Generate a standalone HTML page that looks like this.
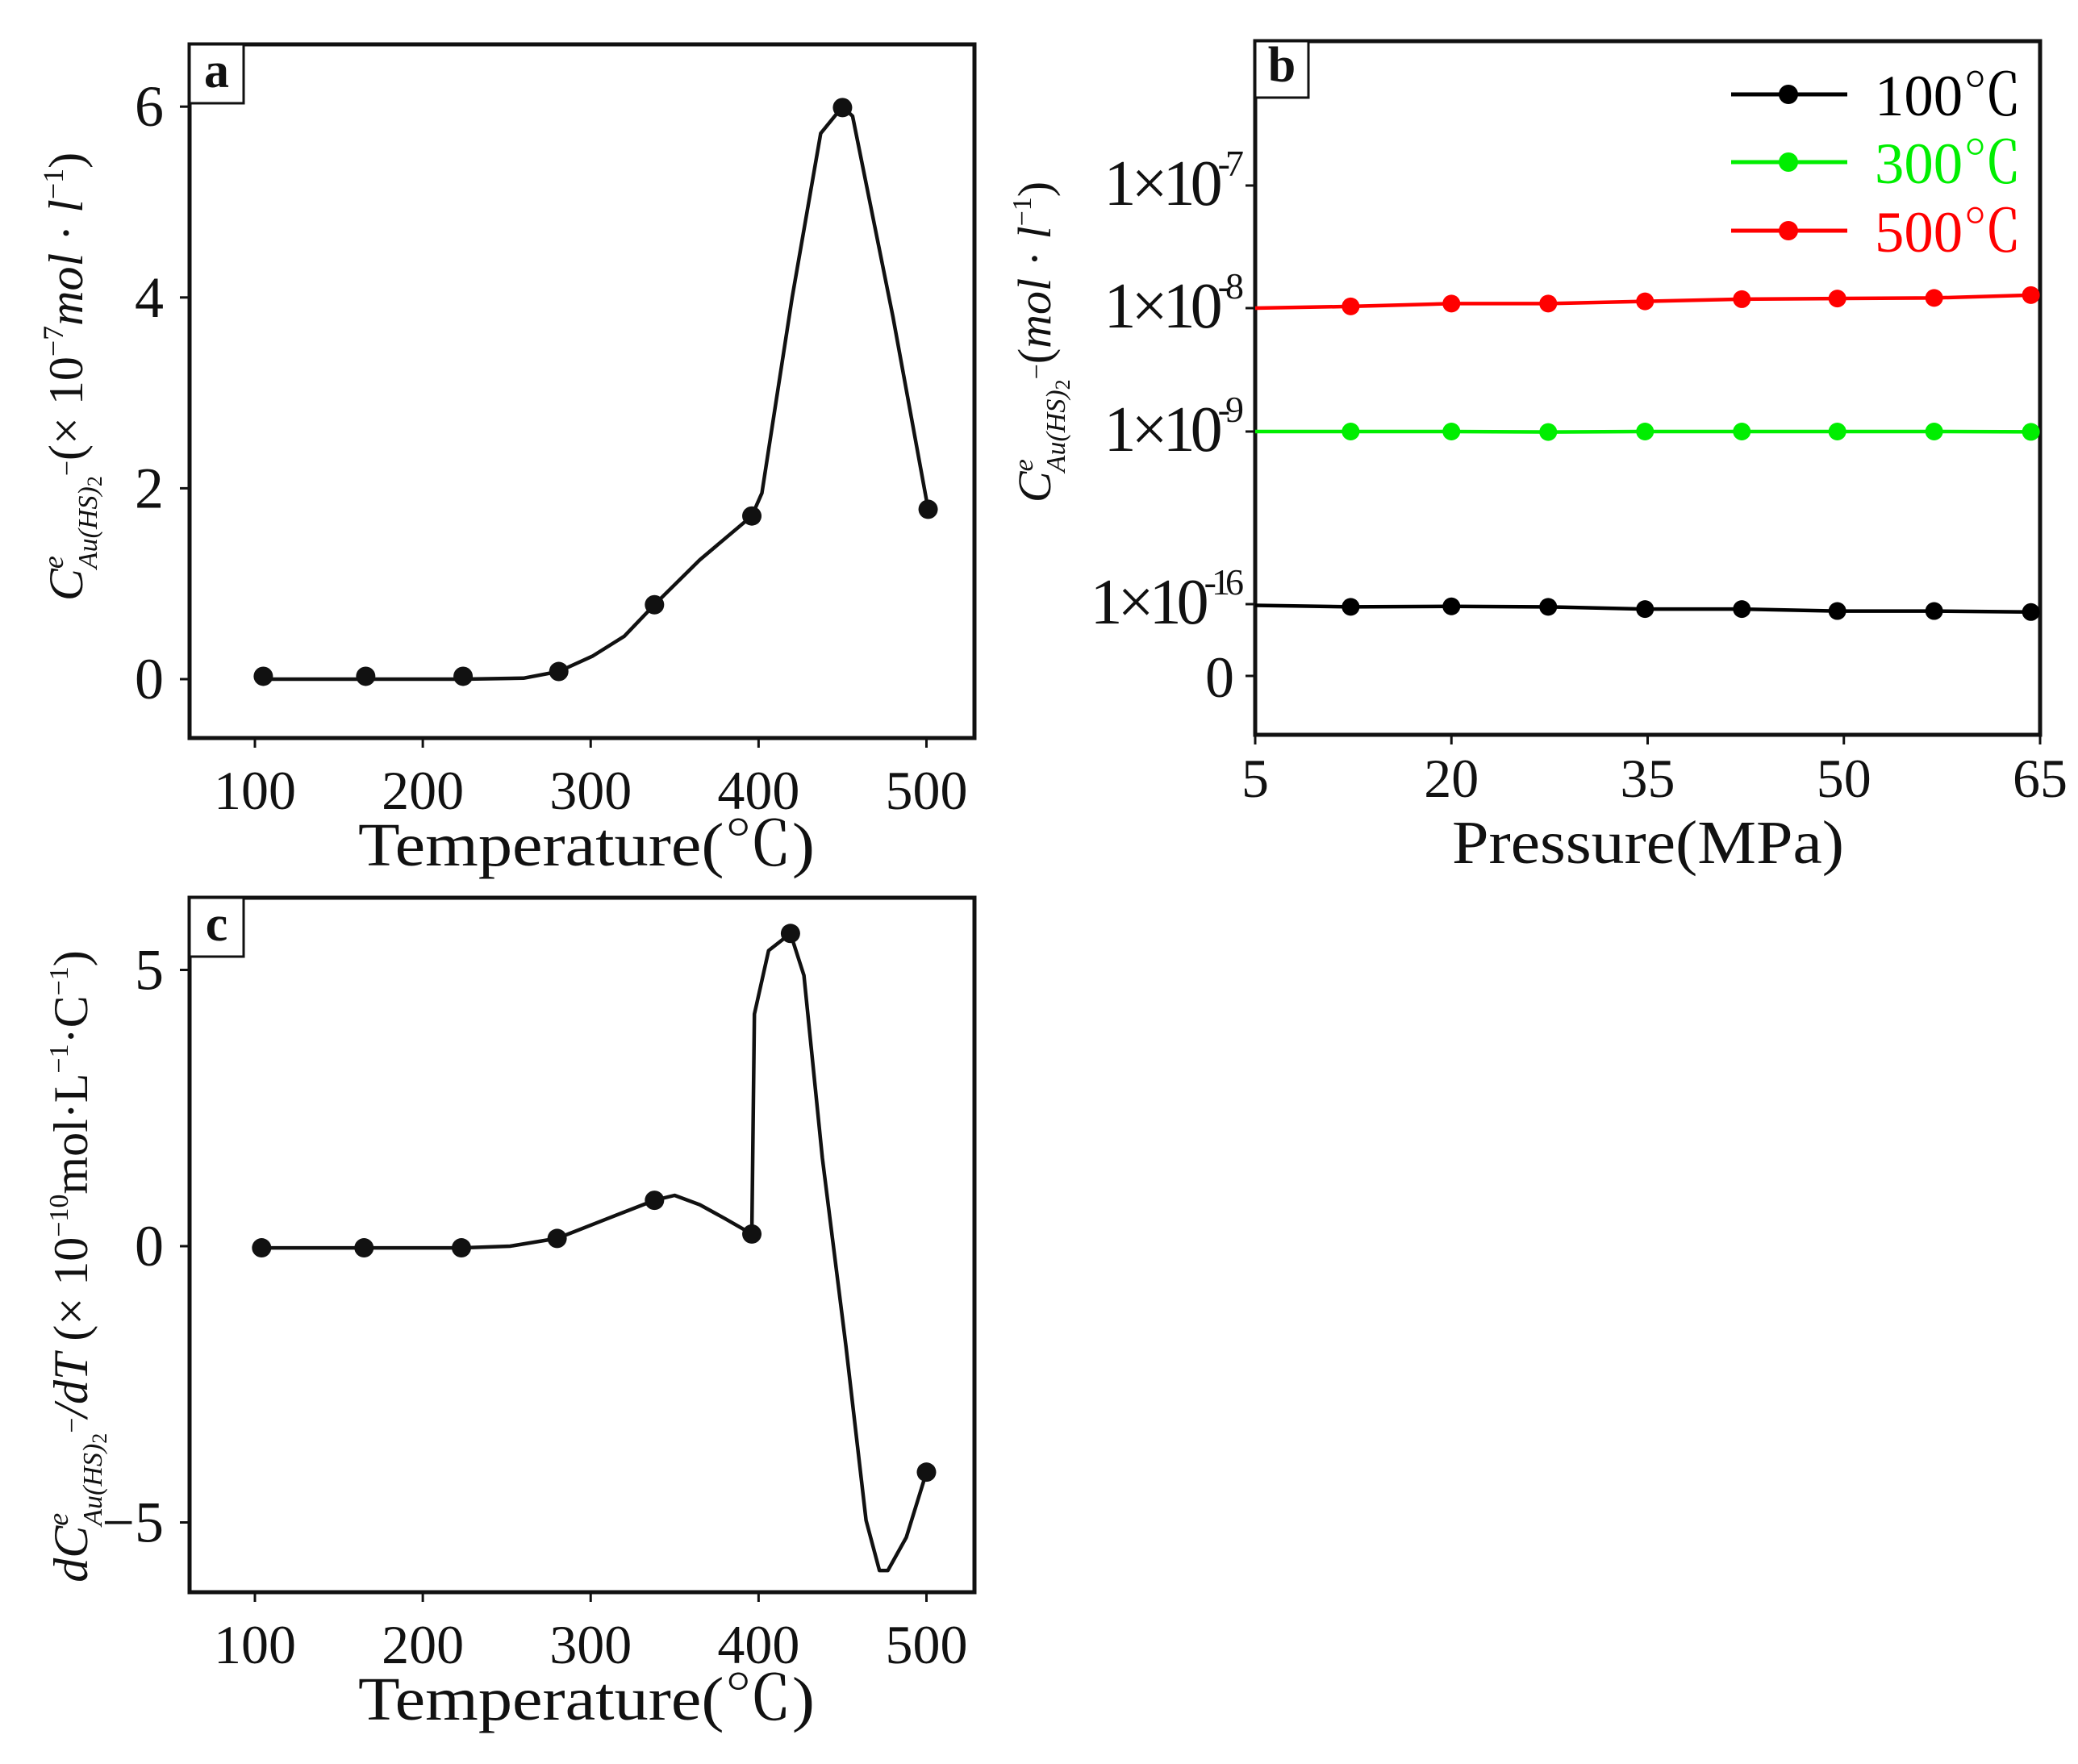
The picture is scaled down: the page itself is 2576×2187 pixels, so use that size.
<!DOCTYPE html>
<html><head><meta charset="utf-8"><style>
html,body{margin:0;padding:0;background:#fff;}
svg{display:block;}
text{font-family:"Liberation Serif","Noto Serif CJK SC",serif;fill:#111;}
</style></head><body>
<svg id="chart" width="2576" height="2187" viewBox="0 0 2576 2187" xmlns="http://www.w3.org/2000/svg">
<g id="pa"></g>
<g id="pb"></g>
<g id="pc"></g>
</svg>
<script>
// ---- Panel a data ----
const aTempMarkers = [105,166,224,281,338,396,450,501];
const aValMarkers = [0.03,0.03,0.03,0.08,0.78,1.71,5.99,1.78];
const aTempCurve = [105,166,224,260,281,301,320,338,365,396,402,420,437,450,456,480,501];
const aValCurve = [0.0,0.0,0.0,0.01,0.08,0.24,0.45,0.78,1.25,1.71,1.95,4.0,5.72,6.0,5.9,3.8,1.78];
const aXTicks = [100,200,300,400,500];
const aYTicks = [0,2,4,6];
// ---- Panel b data ----
const bPressure = [12.3,20,27.4,34.8,42.2,49.5,56.9,64.3];
const bLog500 = [-7.986,-7.963,-7.963,-7.945,-7.927,-7.922,-7.917,-7.894];
const bLog300 = [-9.0,-9.0,-9.02,-9.0,-9.0,-9.0,-9.0,-9.014];
const bLog100 = [-16.11,-16.09,-16.11,-16.2,-16.2,-16.28,-16.28,-16.32];
const bStart500 = -8.0, bStart300 = -9.0, bStart100 = -16.05;
const bXTicks = [5,20,35,50,65];
const bYTickLogs = [-16,-9,-8,-7];
const bYTickExp = ["-16","-9","-8","-7"];
const bLegend = ["100℃","300℃","500℃"];
// ---- Panel c data ----
const cTempMarkers = [104,165,223,280,338,396,419,500];
const cValMarkers = [-0.03,-0.03,-0.03,0.14,0.83,0.22,5.66,-4.09];
const cTempCurve = [104,165,223,252,280,310,338,350,365,380,396,397.5,406,419,427,438,452,464,472,477,488,500];
const cValCurve = [-0.03,-0.03,-0.03,0.0,0.14,0.5,0.83,0.92,0.75,0.5,0.22,4.2,5.35,5.66,4.9,1.6,-1.8,-4.96,-5.87,-5.87,-5.27,-4.09];
const cXTicks = [100,200,300,400,500];
const cYTicks = [-5,0,5];

const NS="http://www.w3.org/2000/svg";
function mk(parent,tag,attrs,txt){const e=document.createElementNS(NS,tag);for(const k in attrs)e.setAttribute(k,attrs[k]);if(txt!==undefined)e.textContent=txt;parent.appendChild(e);return e;}

const xT = t => 316 + (t-100)*2.0812;
const yA = v => 842 - v*118.3;
const yC = v => 1545 - v*68.5;
const xP = p => 1556 + (p-5)*(973/60);
const bStops=[-16,-9,-8,-7], bPix=[749,535,382,230];
function yB(l){let i=0;if(l<=bStops[0])i=0;else if(l>=bStops[2])i=2;else{for(i=0;i<2;i++)if(l<bStops[i+1])break;}
 const t=(l-bStops[i])/(bStops[i+1]-bStops[i]);return bPix[i]+t*(bPix[i+1]-bPix[i]);}

function frame(g,x,y,w,h){const r=mk(g,'rect',{x:x,y:y,width:w,height:h,fill:'none',stroke:'#111','stroke-width':5});
 }
function letterBox(g,x,y,w,h,l){const b=mk(g,'rect',{x:x,y:y,width:w,height:h,fill:'#fff',stroke:'#111','stroke-width':3});
 
 const t=mk(g,'text',{x:x+w/2,y:y+h-20,'text-anchor':'middle','font-size':62,'font-weight':'bold'},l);
 }
function poly(g,xs,ys,fx,fy,color,name){const pts=xs.map((x,i)=>fx(x).toFixed(1)+','+fy(ys[i]).toFixed(1)).join(' ');
 const p=mk(g,'polyline',{points:pts,fill:'none',stroke:color,'stroke-width':4.5,'stroke-linejoin':'round'});
 }
function dots(g,xs,ys,fx,fy,color,r,name){xs.forEach((x,i)=>{const c=mk(g,'circle',{cx:fx(x),cy:fy(ys[i]),r:r,fill:color});
 });}

// ---------- Panel a ----------
const ga=document.getElementById('pa');
frame(ga,235,55,973,860);
aXTicks.forEach(t=>{mk(ga,'line',{x1:xT(t),x2:xT(t),y1:915,y2:927,stroke:'#111','stroke-width':3});
 const l=mk(ga,'text',{x:xT(t),y:1003,'text-anchor':'middle','font-size':68},String(t));
 });
aYTicks.forEach(v=>{mk(ga,'line',{x1:223,x2:235,y1:yA(v),y2:yA(v),stroke:'#111','stroke-width':3});
 const l=mk(ga,'text',{x:203,y:yA(v)+24,'text-anchor':'end','font-size':72},String(v));
 });
poly(ga,aTempCurve,aValCurve,xT,yA,'#111','concentration-line');
dots(ga,aTempMarkers,aValMarkers,xT,yA,'#111',12,'data-point');
letterBox(ga,235,55,67,73,'a');
{const t=mk(ga,'text',{x:727,y:1073,'text-anchor':'middle','font-size':76,textLength:566,lengthAdjust:'spacingAndGlyphs'},'Temperature(℃)');
 }
{const t=mk(ga,'text',{transform:'translate(102,467) rotate(-90)','text-anchor':'middle','font-size':60});
 
 t.innerHTML='<tspan font-style="italic">C</tspan><tspan font-size="36" dy="-24" font-style="italic">e</tspan><tspan font-size="34" dy="42" dx="-16" font-style="italic">Au(HS)</tspan><tspan font-size="26" dy="6">2</tspan><tspan font-size="34" dy="-32">−</tspan><tspan dy="8">(× 10</tspan><tspan font-size="36" dy="-24">−7</tspan><tspan dy="24" font-style="italic">mol</tspan><tspan> · </tspan><tspan font-style="italic">l</tspan><tspan font-size="36" dy="-24">−1</tspan><tspan dy="24">)</tspan>';}

// ---------- Panel b ----------
const gb=document.getElementById('pb');
frame(gb,1556,51,973,860);
bXTicks.forEach(p=>{mk(gb,'line',{x1:xP(p),x2:xP(p),y1:911,y2:923,stroke:'#111','stroke-width':3});
 const l=mk(gb,'text',{x:xP(p),y:988,'text-anchor':'middle','font-size':68},String(p));
 });
bYTickLogs.forEach((lg,i)=>{const y=yB(lg);mk(gb,'line',{x1:1544,x2:1556,y1:y,y2:y,stroke:'#111','stroke-width':3});
 const l=mk(gb,'text',{x:1536,y:y+24,'text-anchor':'end','font-size':80,'letter-spacing':-6});
 
 l.innerHTML='1×10<tspan font-size="46" dy="-36">'+bYTickExp[i]+'</tspan>';});
mk(gb,'line',{x1:1544,x2:1556,y1:838,y2:838,stroke:'#111','stroke-width':3});
{const l=mk(gb,'text',{x:1530,y:864,'text-anchor':'end','font-size':72},'0');}
const bSeries=[[bLog100,bStart100,'#000'],[bLog300,bStart300,'#00ee00'],[bLog500,bStart500,'#ff0000']];
bSeries.forEach((s,i)=>{poly(gb,[5].concat(bPressure),[s[1]].concat(s[0]),xP,yB,s[2],'series-line-'+bLegend[i]);
 dots(gb,bPressure,s[0],xP,yB,s[2],11,'series-point');});
const legY=[117,201,286];
bLegend.forEach((n,i)=>{const c=bSeries[i][2];
 const g=mk(gb,'g',{});
 mk(g,'line',{x1:2146,x2:2290,y1:legY[i],y2:legY[i],stroke:c,'stroke-width':5});
 mk(g,'circle',{cx:2217,cy:legY[i],r:12,fill:c});
 const t=mk(g,'text',{x:2324,y:legY[i]+26,'font-size':72,textLength:182,lengthAdjust:'spacingAndGlyphs',fill:c},n);t.style.fill=c;});
letterBox(gb,1556,51,66,70,'b');
{const t=mk(gb,'text',{x:2043,y:1070,'text-anchor':'middle','font-size':76,textLength:486,lengthAdjust:'spacingAndGlyphs'},'Pressure(MPa)');
 }
{const t=mk(gb,'text',{transform:'translate(1302,424) rotate(-90)','text-anchor':'middle','font-size':58});
 
 t.innerHTML='<tspan font-style="italic">C</tspan><tspan font-size="34" dy="-22" font-style="italic">e</tspan><tspan font-size="34" dy="40" dx="-16" font-style="italic">Au(HS)</tspan><tspan font-size="26" dy="6">2</tspan><tspan font-size="34" dy="-30">−</tspan><tspan dy="6">(</tspan><tspan font-style="italic">mol</tspan><tspan> · </tspan><tspan font-style="italic">l</tspan><tspan font-size="34" dy="-24">−1</tspan><tspan dy="24">)</tspan>';}

// ---------- Panel c ----------
const gc=document.getElementById('pc');
frame(gc,235,1113,973,861);
cXTicks.forEach(t=>{mk(gc,'line',{x1:xT(t),x2:xT(t),y1:1974,y2:1986,stroke:'#111','stroke-width':3});
 const l=mk(gc,'text',{x:xT(t),y:2062,'text-anchor':'middle','font-size':68},String(t));
 });
cYTicks.forEach(v=>{mk(gc,'line',{x1:223,x2:235,y1:yC(v),y2:yC(v),stroke:'#111','stroke-width':3});
 const l=mk(gc,'text',{x:203,y:yC(v)+24,'text-anchor':'end','font-size':72},v<0?'−'+Math.abs(v):String(v));
 });
poly(gc,cTempCurve,cValCurve,xT,yC,'#111','derivative-line');
dots(gc,cTempMarkers,cValMarkers,xT,yC,'#111',12,'data-point');
letterBox(gc,235,1113,67,73,'c');
{const t=mk(gc,'text',{x:727,y:2132,'text-anchor':'middle','font-size':76,textLength:566,lengthAdjust:'spacingAndGlyphs'},'Temperature(℃)');
 }
{const t=mk(gc,'text',{transform:'translate(108,1570) rotate(-90)','text-anchor':'middle','font-size':60});
 
 t.innerHTML='<tspan font-style="italic">dC</tspan><tspan font-size="36" dy="-24" font-style="italic">e</tspan><tspan font-size="34" dy="42" dx="-16" font-style="italic">Au(HS)</tspan><tspan font-size="26" dy="6">2</tspan><tspan font-size="34" dy="-32">−</tspan><tspan dy="8" font-style="italic">/dT</tspan><tspan>  (× 10</tspan><tspan font-size="34" dy="-24">−10</tspan><tspan dy="24">mol·L</tspan><tspan font-size="34" dy="-24">−1</tspan><tspan dy="24">·C</tspan><tspan font-size="34" dy="-24">−1</tspan><tspan dy="24">)</tspan>';}
</script>
</body></html>
